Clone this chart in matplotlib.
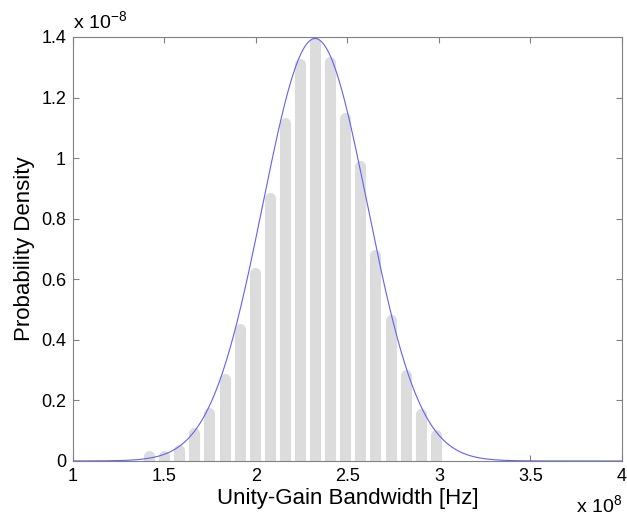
import numpy as np
import matplotlib
matplotlib.use('Agg')
import matplotlib.pyplot as plt

plt.rcParams['font.family'] = ['Liberation Sans', 'DejaVu Sans']

# histogram bin centres (x 1e8 Hz) and densities (x 1e-8)
bin_centers = [1.415, 1.497, 1.580, 1.662, 1.745, 1.828, 1.910, 1.993, 2.075, 2.158,
               2.240, 2.323, 2.406, 2.488, 2.571, 2.653, 2.736, 2.819, 2.901, 2.984]
density = [0.015, 0.015, 0.036, 0.093, 0.159, 0.272, 0.437, 0.619, 0.868, 1.116,
           1.311, 1.384, 1.318, 1.132, 0.974, 0.679, 0.464, 0.285, 0.156, 0.086]

# fitted normal curve
mu = 2.323
sigma = 0.286

x_ticks = [1, 1.5, 2, 2.5, 3, 3.5, 4]
x_labels = ['1', '1.5', '2', '2.5', '3', '3.5', '4']
y_ticks = [0, 0.2, 0.4, 0.6, 0.8, 1.0, 1.2, 1.4]
y_labels = ['0', '0.2', '0.4', '0.6', '0.8', '1', '1.2', '1.4']

fig = plt.figure(figsize=(6.27, 5.25), dpi=100)
ax = fig.add_axes([0.1164, 0.122, 0.8756, 0.8076])

bars = ax.vlines(bin_centers, 0, density, colors='#dcdcdc', linewidth=8, zorder=2)
bars.set_capstyle('round')

xs = np.linspace(1, 4, 600)
pdf = np.exp(-(xs - mu) ** 2 / (2 * sigma ** 2)) / (sigma * np.sqrt(2 * np.pi))
ax.plot(xs, pdf, color='#6060ff', linewidth=0.8, zorder=3)

ax.set_xlim(1, 4)
ax.set_ylim(0, 1.4)
ax.set_xticks(x_ticks)
ax.set_xticklabels(x_labels)
ax.set_yticks(y_ticks)
ax.set_yticklabels(y_labels)
ax.tick_params(direction='in', top=True, right=True, length=4, width=0.8,
               color='#808080', labelsize=13, pad=5)
for sp in ax.spines.values():
    sp.set_color('#808080')
    sp.set_linewidth(0.8)

ax.set_xlabel('Unity-Gain Bandwidth [Hz]', fontsize=16, labelpad=2)
ax.set_ylabel('Probability Density', fontsize=16, labelpad=4)

# exponent labels
ax.text(0.0, 1.008, r'x 10$^{\mathregular{-8}}$', transform=ax.transAxes,
        fontsize=14, ha='left', va='bottom')
ax.text(1.0, -0.08, r'x 10$^{\mathregular{8}}$', transform=ax.transAxes,
        fontsize=14, ha='right', va='top')

fig.savefig('out.png', dpi=100)
